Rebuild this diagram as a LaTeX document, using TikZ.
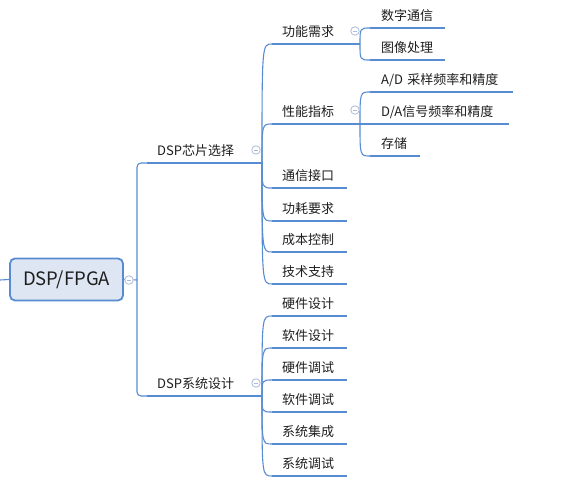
\documentclass[tikz,border=0pt]{standalone}
\usepackage{fontspec}
\setmainfont{Noto Sans CJK SC}
\definecolor{linec}{RGB}{88,140,210}
\definecolor{rootfill}{RGB}{221,230,242}
\definecolor{colc}{RGB}{170,188,218}
\definecolor{textc}{RGB}{30,30,30}
\begin{document}
\begin{tikzpicture}[x=1pt,y=-1pt,
  item/.style={anchor=south west, inner xsep=0pt, inner ysep=7pt, text depth=0pt, text height=9pt,
    font=\fontsize{13}{15}\selectfont, align=left, text=textc, text width=#1},
  rootbox/.style={draw=linec, line width=1.8pt, fill=rootfill, rounded corners=5pt,
    minimum width=113pt, minimum height=42pt, inner sep=0pt, font=\fontsize{18.5}{20}\selectfont, text=textc},
  uline/.style={draw=linec, line width=2.9pt},
  conn/.style={draw=linec, line width=1.1pt},
  collapse/.style={circle, draw=colc, fill=white, line width=0.8pt, minimum size=8.5pt, inner sep=0pt,
    path picture={\draw[colc, line width=0.8pt] ([xshift=-2.2pt]path picture bounding box.center) -- ([xshift=2.2pt]path picture bounding box.center);}}
]
\useasboundingbox (0,0) rectangle (563,481);

% root
\node[rootbox] (root) at (66.5,279.5) {DSP/FPGA};
\coordinate (stub) at (0,280);
\coordinate (j0) at (137,280);

% level 1
\node[item=101pt] (a) at (147,163) {\hspace*{10pt}DSP芯片选择};
\node[item=101pt] (b) at (147,396) {\hspace*{10pt}DSP系统设计};
\coordinate (ja) at (262,163);
\coordinate (jb) at (262,396);

% level 2 under a
\node[item=75pt] (a1) at (272,44) {\hspace*{10pt}功能需求};
\node[item=75pt] (a2) at (272,124) {\hspace*{10pt}性能指标};
\node[item=75pt] (a3) at (272,188) {\hspace*{10pt}通信接口};
\node[item=75pt] (a4) at (272,221) {\hspace*{10pt}功耗要求};
\node[item=75pt] (a5) at (272,252) {\hspace*{10pt}成本控制};
\node[item=75pt] (a6) at (272,284) {\hspace*{10pt}技术支持};
\coordinate (ja1) at (360,44);
\coordinate (ja2) at (360,124);

% level 2 under b
\node[item=75pt] (b1) at (272,316) {\hspace*{10pt}硬件设计};
\node[item=75pt] (b2) at (272,348) {\hspace*{10pt}软件设计};
\node[item=75pt] (b3) at (272,380) {\hspace*{10pt}硬件调试};
\node[item=75pt] (b4) at (272,412) {\hspace*{10pt}软件调试};
\node[item=75pt] (b5) at (272,444) {\hspace*{10pt}系统集成};
\node[item=75pt] (b6) at (272,476) {\hspace*{10pt}系统调试};

% level 3
\node[item=75pt] (c1) at (370,28) {\hspace*{11pt}数字通信};
\node[item=75pt] (c2) at (370,60) {\hspace*{11pt}图像处理};
\node[item=143pt] (d1) at (370,92) {\hspace*{11pt}A/D 采样频率和精度};
\node[item=139pt] (d2) at (370,124) {\hspace*{11pt}D/A信号频率和精度};
\node[item=50pt] (d3) at (370,156) {\hspace*{11pt}存储};

% underlines
\foreach \n in {a,b,a1,a2,a3,a4,a5,a6,b1,b2,b3,b4,b5,b6,c1,c2,d1,d2,d3}
  \draw[uline] (\n.south west) -- (\n.south east);

% connectors
\draw[conn] (stub) -- (root.west);
\draw[conn] (root.east) -- (j0);
\draw[conn, rounded corners=4pt] (j0) |- (a.south west);
\draw[conn, rounded corners=4pt] (j0) |- (b.south west);

\draw[conn] (a.south east) -- (ja);
\foreach \n in {a1,a2,a3,a4,a5,a6}
  \draw[conn] (ja) .. controls (ja |- \n.south west) .. (\n.south west);
\draw[conn] (b.south east) -- (jb);
\foreach \n in {b1,b2,b3,b4,b5,b6}
  \draw[conn] (jb) .. controls (jb |- \n.south west) .. (\n.south west);

\draw[conn] (a1.south east) -- (ja1);
\foreach \n in {c1,c2}
  \draw[conn] (ja1) .. controls (ja1 |- \n.south west) .. (\n.south west);
\draw[conn] (a2.south east) -- (ja2);
\foreach \n in {d1,d2,d3}
  \draw[conn] (ja2) .. controls (ja2 |- \n.south west) .. (\n.south west);

% collapse markers
\node[collapse] (k0) at (129,280) {};
\node[collapse] (ka) at (256,150) {};
\node[collapse] (kb) at (256,383) {};
\node[collapse] (ka1) at (355,31) {};
\node[collapse] (ka2) at (355,110) {};
\end{tikzpicture}
\end{document}
